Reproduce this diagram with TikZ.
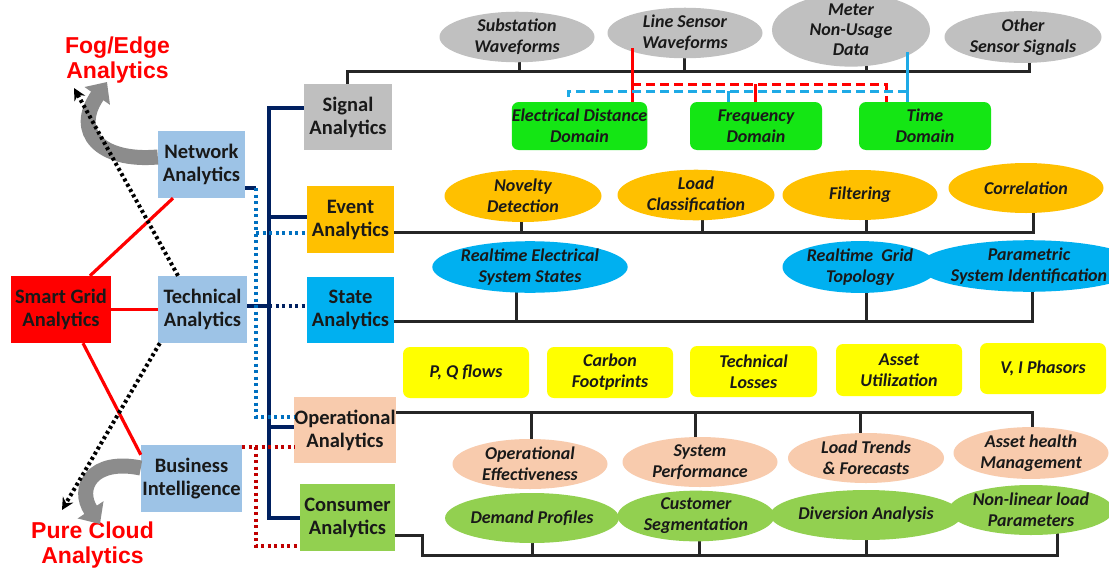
\documentclass[tikz,border=0pt]{standalone}
\usepackage{fontspec}
\setmainfont{Carlito}
\newfontfamily\labfont{Liberation Sans}
\usetikzlibrary{arrows.meta,calc,shapes.geometric}
\pgfdeclarelayer{bg}
\pgfdeclarelayer{paper}
\pgfsetlayers{paper,bg,main}
\definecolor{navyc}{HTML}{002060}
\definecolor{sgred}{HTML}{FF0000}
\definecolor{ltblue}{HTML}{9DC3E6}
\definecolor{sigc}{HTML}{BFBFBF}
\definecolor{evtc}{HTML}{FFC000}
\definecolor{stac}{HTML}{00B0F0}
\definecolor{opec}{HTML}{F8CBAD}
\definecolor{conc}{HTML}{92D050}
\definecolor{domc}{HTML}{14E614}
\definecolor{yelc}{HTML}{FFFF00}
\definecolor{ellgray}{HTML}{C0C0C0}
\definecolor{dotblue}{HTML}{0070C0}
\definecolor{dotred}{HTML}{C00000}
\definecolor{lineblue}{HTML}{1EAAE6}
\definecolor{arrgray}{HTML}{8C8C8C}
\newcommand\boxfont{\fontsize{20.5}{23}\selectfont\bfseries}
\newcommand\ellfont{\fontsize{18}{21}\selectfont\bfseries\itshape}
\newcommand\labelfont{\labfont\fontsize{23}{25}\selectfont\bfseries}
\newcommand\bustick[3]{\path ([xshift=#2pt]#1.center) coordinate (tk); \draw[busline] (tk) -- (tk |- #3);}
\begin{document}
\begin{tikzpicture}[x=1pt,y=-1pt,
  box/.style={inner sep=0pt, align=center, font=\boxfont, text=black!90},
  ell/.style={ellipse, inner sep=0pt, minimum width=155pt, minimum height=50pt, align=center, font=\ellfont, text=black!90},
  rbox/.style={rounded corners=7pt, inner sep=0pt, align=center, font=\ellfont, minimum width=132pt, minimum height=48pt, text=black!90},
  lab/.style={inner sep=0pt, align=center, font=\labelfont, text=red},
  busline/.style={line width=3pt, black!85},
  trunk/.style={line width=4pt, navyc},
  bluedot/.style={line width=4pt, dotblue, dash pattern=on 3pt off 3.5pt},
  reddot/.style={line width=4pt, dotred, dash pattern=on 3pt off 3.5pt},
  navydot/.style={line width=4pt, navyc, dash pattern=on 3pt off 3.5pt},
  blkdot/.style={line width=4pt, black, dash pattern=on 3pt off 3pt, -{Stealth[length=12pt,width=12pt,inset=4pt]}},
  redl/.style={line width=3pt, red},
  reddash/.style={line width=3pt, red, dash pattern=on 9pt off 5pt},
  bluel/.style={line width=3pt, lineblue},
  bluedash/.style={line width=3pt, lineblue, dash pattern=on 9pt off 5pt},
  redlink/.style={line width=3.2pt, red},
  grayarr/.style={line width=15pt, arrgray, -{Triangle[length=17pt,width=30pt]}}
]
\begin{pgfonlayer}{paper}
\fill[white] (0,0) rectangle (1109,568);
\end{pgfonlayer}
\useasboundingbox (0,0) rectangle (1109,568);

% left and middle boxes
\node[box, fill=sgred, minimum width=100pt, minimum height=67pt] (sg) at (61,309.5) {Smart Grid\\Analytics};
\node[box, fill=ltblue, minimum width=87pt, minimum height=67pt] (net) at (201.5,164.5) {Network\\Analytics};
\node[box, fill=ltblue, minimum width=89pt, minimum height=67pt] (tech) at (202.5,309.5) {Technical\\Analytics};
\node[box, fill=ltblue, minimum width=101pt, minimum height=67pt] (bi) at (191.5,478.5) {Business\\Intelligence};
\node[box, fill=sigc, minimum width=88pt, minimum height=66pt] (sig) at (348,117) {Signal\\Analytics};
\node[box, fill=evtc, minimum width=87pt, minimum height=67pt] (evt) at (350.5,219.5) {Event\\Analytics};
\node[box, fill=stac, minimum width=87pt, minimum height=66pt] (sta) at (350.5,310) {State\\Analytics};
\node[box, fill=opec, minimum width=100pt, minimum height=66pt] (ope) at (345,430) {Operational\\Analytics};
\node[box, fill=conc, minimum width=95pt, minimum height=67pt] (con) at (347.5,517.5) {Consumer\\Analytics};

\node[lab] (fog) at (117.5,60) {Fog/Edge\\Analytics};
\node[lab] (cloud) at (92.5,545) {Pure Cloud\\Analytics};

% signal row
\node[ell, fill=ellgray] (s1) at (517,37) {Substation\\Waveforms};
\node[ell, fill=ellgray] (s2) at (685,33) {Line Sensor\\Waveforms};
\node[ell, fill=ellgray, minimum width=158pt, minimum height=62pt] (s3) at (851,30) {Meter\\[-1pt]Non-Usage\\[-1pt]Data};
\node[ell, fill=ellgray, minimum width=157pt] (s4) at (1023,37) {Other\\Sensor Signals};
\node[rbox, fill=domc, minimum width=133pt] (d1) at (579.5,126) {Electrical Distance\\Domain};
\node[rbox, fill=domc] (d2) at (756,126) {Frequency\\Domain};
\node[rbox, fill=domc] (d3) at (925,126) {Time\\Domain};

% event row
\node[ell, fill=evtc, minimum width=157pt, minimum height=52pt] (o1) at (523,196) {Novelty\\Detection};
\node[ell, fill=evtc, minimum width=157pt] (o2) at (696,195) {Load\\Classification};
\node[ell, fill=evtc] (o3) at (860,195) {Filtering};
\node[ell, fill=evtc] (o4) at (1026,188) {Correlation};

% state row
\node[ell, fill=stac, minimum width=176pt] (b1) at (530,267) {Realtime Electrical\\System States};
\node[ell, fill=stac] (b2) at (860,267) {Realtime\ \ Grid\\Topology};
\node[ell, fill=stac, minimum width=156pt] (b3) at (1029,266) {Parametric\\System Identification};

% yellow row
\node[rbox, fill=yelc, minimum width=126pt, minimum height=51pt] (y1) at (466,372.5) {P, Q flows};
\node[rbox, fill=yelc, minimum width=126pt, minimum height=51pt] (y2) at (610,372.5) {Carbon\\Footprints};
\node[rbox, fill=yelc, minimum width=127pt, minimum height=51pt] (y3) at (753.5,371.5) {Technical\\Losses};
\node[rbox, fill=yelc, minimum width=126pt, minimum height=52pt] (y4) at (899,370) {Asset\\Utilization};
\node[rbox, fill=yelc, minimum width=126pt, minimum height=51pt] (y5) at (1043,368.5) {V, I Phasors};

% operational row
\node[ell, fill=opec] (p1) at (530,464) {Operational\\Effectiveness};
\node[ell, fill=opec] (p2) at (700,462) {System\\Performance};
\node[ell, fill=opec, minimum width=156pt] (p3) at (866,458) {Load Trends\\\& Forecasts};
\node[ell, fill=opec] (p4) at (1031,453) {Asset health\\Management};

% consumer row
\node[ell, fill=conc, minimum width=156pt] (g1) at (532,518) {Demand Profiles};
\node[ell, fill=conc, minimum width=157pt] (g2) at (696,516) {Customer\\Segmentation};
\node[ell, fill=conc, minimum width=156pt] (g3) at (866,515) {Diversion Analysis};
\node[ell, fill=conc] (g4) at (1031,510) {Non-linear load\\Parameters};

\begin{pgfonlayer}{bg}
  % signal bus
  \coordinate (sbL) at (347,71);
  \coordinate (sbR) at (1029,71);
  \draw[busline] (sig.north -| sbL) -- (sbL) -- (sbR) -- (sbR |- s4.center);
  \bustick{s1}{2}{sbL}
  \bustick{s2}{-1}{sbL}
  \bustick{s3}{15}{sbL}
  % event bus
  \coordinate (eb) at (1033,232);
  \draw[busline] (evt.east |- eb) -- (eb) -- (eb |- o4.center);
  \bustick{o1}{-2}{eb}
  \bustick{o2}{6}{eb}
  \bustick{o3}{6}{eb}
  % state bus
  \coordinate (stb) at (1032,321);
  \draw[busline] (sta.east |- stb) -- (stb) -- (stb |- b3.center);
  \bustick{b1}{-14}{stb}
  \bustick{b2}{6}{stb}
  % operational bus
  \coordinate (opb) at (1032,412);
  \draw[busline] (ope.east |- opb) -- (opb) -- (opb |- p4.center);
  \bustick{p1}{1}{opb}
  \bustick{p2}{-5}{opb}
  \bustick{p3}{-6}{opb}
  % consumer bus
  \coordinate (cb1) at (422,535);
  \coordinate (cb) at (1057,555);
  \draw[busline] (con.east |- cb1) -- (cb1) -- (cb1 |- cb) -- (cb) -- (cb |- g4.center);
  \bustick{g1}{0}{cb}
  \bustick{g2}{3}{cb}
  \bustick{g3}{0}{cb}
\end{pgfonlayer}

% navy trunk
\coordinate (tA) at (269,108);
\coordinate (tB) at (269,518);
\draw[trunk] (sig.west |- tA) -- (tA) -- (tB) -- (con.west |- tB);
\coordinate (tE) at (269,217);
\draw[trunk] (tE) -- (evt.west |- tE);
\coordinate (tO) at (269,427);
\draw[trunk] (tO) -- (ope.west |- tO);
\coordinate (tT) at (269,306);
\draw[trunk] (tech.east |- tT) -- (tT);
\draw[navydot] (tT) -- (sta.west |- tT);
% network dotted links
\coordinate (nA) at (256,188);
\coordinate (nB) at (256,417);
\coordinate (nE) at (256,233);
\draw[trunk] (net.east |- nA) -- (nA);
\draw[bluedot] (nA) -- (nB) -- (ope.west |- nB);
\draw[bluedot] (nE) -- (evt.west |- nE);
% business dotted links
\coordinate (bA) at (256,447);
\coordinate (bB) at (256,546);
\draw[reddot] (bi.east |- bA) -- (ope.west |- bA);
\draw[reddot] (bA) -- (bB) -- (con.west |- bB);

% signal domain links
\coordinate (rA) at (632,48);
\coordinate (rB) at (632,84);
\coordinate (rC) at (886,84);
\coordinate (rD) at (755,84);
\draw[redl] (rA) -- (d1.north -| rA);
\draw[reddash] (rB) -- (rC) -- (d3.north -| rC);
\draw[redl] (rD) -- (d2.north -| rD);
\coordinate (uA) at (907,52);
\coordinate (uB) at (907,91);
\coordinate (uC) at (568,91);
\coordinate (uD) at (728,91);
\draw[bluel] (uA) -- (d3.north -| uA);
\draw[bluedash] (uB) -- (uC) -- (d1.north -| uC);
\draw[bluel] (uD) -- (d2.north -| uD);

% left side links
\draw[redlink] ([xshift=29pt]sg.north) -- ([xshift=-28.5pt]net.south);
\draw[redlink] (sg.east) -- (tech.west);
\draw[redlink] ([xshift=22pt]sg.south) -- ([yshift=-10pt]bi.north west);

% gray curved arrows
\coordinate (fogarr) at (107,82);
\coordinate (cloudarr) at (100,524);
\draw[grayarr] ([yshift=7.5pt]net.west) .. controls (100,162) and (72,132) .. (fogarr);
\draw[grayarr] ([yshift=10.5pt]bi.west) .. controls (92,458) and (76,488) .. (cloudarr);

% dotted arrows
\coordinate (fogtip) at (74,88);
\coordinate (cloudtip) at (62,510);
\draw[blkdot] ([xshift=-24.5pt]tech.north) -- (fogtip);
\draw[blkdot] ([xshift=2pt]tech.south west) -- (cloudtip);
\end{tikzpicture}
\end{document}
